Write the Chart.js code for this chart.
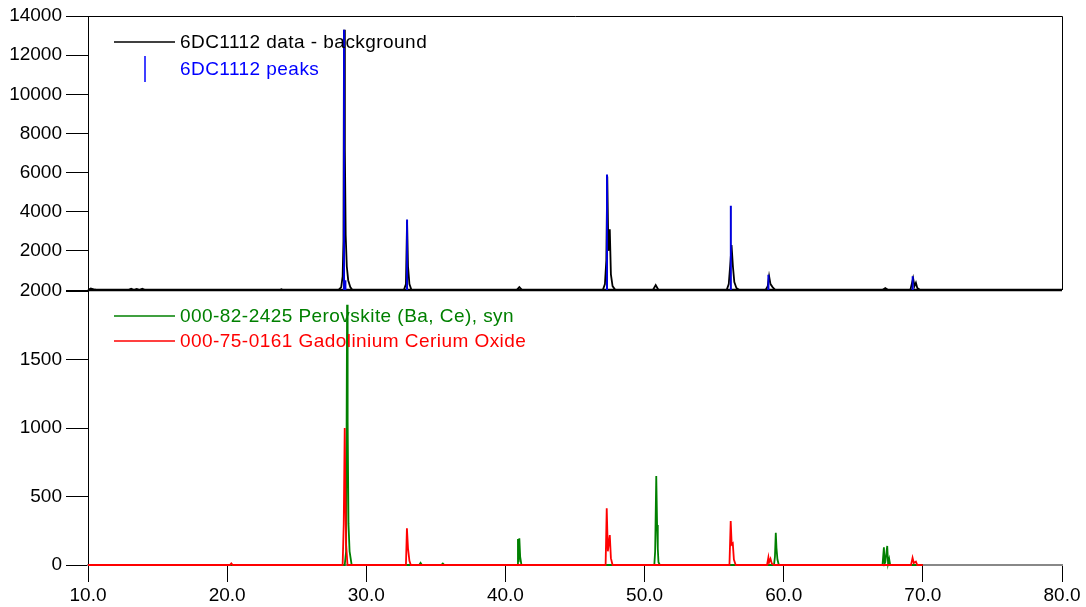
<!DOCTYPE html>
<html lang="en">
<head>
  <meta charset="UTF-8">
  <title>6DC1112 XRD pattern</title>
  <script src="https://cdn.jsdelivr.net/npm/chart.js"></script>
  <style>
    body { margin: 0; background: #fff; font-family: "Liberation Sans", Arial, sans-serif; }
    #wrap { position: relative; width: 1086px; height: 607px; }
    #topCanvas { position: absolute; left: 0; top: 0; }
    #botCanvas { position: absolute; left: 0; top: 270px; }
  </style>
</head>
<body>
  <div id="wrap">
    <canvas id="topCanvas" width="1086" height="310"></canvas>
    <canvas id="botCanvas" width="1086" height="337"></canvas>
  </div>

  <script>
    // measured pattern (2theta, counts) - background subtracted
    const bgX = [10.0, 10.2, 10.4, 10.6, 12.9, 13.1, 13.3, 13.5, 13.7, 13.9, 14.1, 23.8, 23.9, 24.0,
      28.00, 28.20, 28.30, 28.36, 28.40, 28.46, 28.52, 28.60, 28.70, 28.85, 29.00,
      32.70, 32.85, 32.93, 33.00, 33.10, 33.25,
      40.8, 41.0, 41.2,
      47.00, 47.15, 47.25, 47.32, 47.40, 47.50, 47.58, 47.70, 47.90,
      50.6, 50.8, 51.0,
      55.90, 56.05, 56.18, 56.25, 56.35, 56.45, 56.60, 56.80,
      58.70, 58.85, 58.95, 59.05, 59.20, 59.40,
      67.1, 67.3, 67.5,
      69.1, 69.2, 69.3, 69.4, 69.5, 69.6, 69.8, 70.0];
    const bgY = [0, 80, 30, 0, 0, 60, 0, 50, 0, 60, 0, 0, 40, 0,
      0, 150, 700, 2500, 13300, 7200, 2800, 1200, 500, 150, 0,
      0, 300, 3500, 1200, 300, 0,
      0, 150, 0,
      0, 300, 1500, 5800, 2000, 3100, 800, 200, 0,
      0, 250, 0,
      0, 300, 1500, 2300, 1200, 400, 100, 0,
      0, 200, 700, 300, 150, 0,
      0, 100, 0,
      0, 300, 600, 200, 370, 100, 0, 0];

    // peak search result
    const peakX = [28.40, 28.50, 32.93, 47.30, 56.20, 58.90, 69.27];
    const peakH = [13300, 500, 3600, 5900, 4300, 780, 700];

    // reference patterns
    const perovX = [10.0, 28.45, 28.55, 28.62, 28.66, 28.72, 28.80, 28.95, 33.8, 33.9, 34.0, 35.4, 35.5, 35.6,
      40.85, 40.90, 40.95, 41.00, 41.06, 41.15,
      50.70, 50.76, 50.84, 50.90, 50.95, 51.00, 51.10,
      59.30, 59.37, 59.43, 59.48, 59.55, 59.65,
      67.10, 67.20, 67.25, 67.30, 67.44, 67.50, 67.58, 67.65, 70.0];
    const perovY = [0, 0, 100, 1900, 1050, 300, 100, 0, 0, 15, 0, 0, 10, 0,
      0, 190, 20, 195, 60, 0,
      0, 100, 650, 292, 120, 20, 0,
      0, 60, 236, 124, 40, 0,
      0, 129, 10, 20, 139, 10, 44, 0, 0];

    const gdceX = [10.0, 20.2, 20.3, 20.4, 28.30, 28.38, 28.45, 28.50, 28.55, 28.65,
      32.85, 32.92, 33.00, 33.10, 33.20,
      47.20, 47.28, 47.36, 47.50, 47.58, 47.70,
      56.10, 56.19, 56.26, 56.34, 56.42, 56.55,
      58.80, 58.90, 58.95, 59.05, 59.15, 59.30,
      69.15, 69.26, 69.35, 69.50, 69.60, 70.0];
    const gdceY = [0, 0, 12, 0, 0, 300, 1000, 511, 150, 0,
      0, 268, 120, 30, 0,
      0, 414, 100, 219, 50, 0,
      0, 321, 150, 158, 40, 0,
      0, 56, 20, 45, 10, 0,
      0, 53, 15, 25, 0, 0];

    const FONT = { family: '"Liberation Sans", Arial, sans-serif', size: 19 };

    function pts(xs, ys) {
      return xs.map((x, i) => ({ x: x, y: ys[i] }));
    }

    function sticks(xs, hs) {
      const out = [];
      xs.forEach((x, i) => {
        out.push({ x: x, y: 0 }, { x: x, y: hs[i] }, { x: x, y: null });
      });
      return out;
    }

    function yAxis(max, step, hideZero) {
      return {
        min: 0, max: max,
        ticks: {
          stepSize: step, color: '#000', font: FONT, padding: 4,
          callback: v => (hideZero && v === 0) ? '' : v
        },
        grid: { drawOnChartArea: false, tickLength: 22, color: '#000', tickWidth: 1 },
        border: { color: '#000', width: 1 },
        afterFit: s => { s.width = 88; }
      };
    }

    // legend entries drawn inside the plot area
    function legendPlugin(entries) {
      return {
        id: 'inlineLegend',
        afterDraw(chart) {
          const c = chart.ctx;
          c.save();
          c.font = '19px "Liberation Sans", Arial, sans-serif';
          c.letterSpacing = '0.45px';
          c.textBaseline = 'middle';
          entries.forEach(e => {
            c.strokeStyle = e.color;
            c.lineWidth = 1.5;
            c.beginPath();
            if (e.stick) {
              c.moveTo(145, e.y - 13); c.lineTo(145, e.y + 13);
            } else {
              c.moveTo(114, e.y); c.lineTo(175, e.y);
            }
            c.stroke();
            c.fillStyle = e.color;
            c.fillText(e.text, 180, e.y + 1);
          });
          c.restore();
        }
      };
    }

    const framePlugin = {
      id: 'frame',
      beforeDatasetsDraw(chart) {
        const a = chart.chartArea, c = chart.ctx;
        c.save();
        c.strokeStyle = '#000';
        c.lineWidth = 1;
        c.beginPath();
        c.moveTo(a.left, a.top + 0.5); c.lineTo(a.right + 0.5, a.top + 0.5);
        c.lineTo(a.right + 0.5, a.bottom);
        c.stroke();
        c.lineWidth = 2.5;
        c.beginPath();
        c.moveTo(a.left, a.bottom); c.lineTo(a.right, a.bottom);
        c.stroke();
        c.restore();
      }
    };

    new Chart(document.getElementById('topCanvas'), {
      type: 'line',
      data: {
        datasets: [
          { label: '6DC1112 peaks', data: sticks(peakX, peakH), borderColor: '#0000dd',
            borderWidth: 2, pointRadius: 0, spanGaps: false, tension: 0, clip: 6 },
          { label: '6DC1112 data - background', data: pts(bgX, bgY), borderColor: '#000',
            borderWidth: 1.8, pointRadius: 0, tension: 0, clip: 6 }
        ]
      },
      options: {
        responsive: false, animation: false,
        layout: { padding: { top: 16, right: 24, bottom: 20, left: 0 } },
        plugins: { legend: { display: false }, tooltip: { enabled: false } },
        scales: {
          x: { type: 'linear', min: 10, max: 80, display: false },
          y: yAxis(14000, 2000, true)
        }
      },
      plugins: [framePlugin, legendPlugin([
        { text: '6DC1112 data - background', color: '#000', y: 42 },
        { text: '6DC1112 peaks', color: '#0000ff', y: 69, stick: true }
      ])]
    });

    new Chart(document.getElementById('botCanvas'), {
      type: 'line',
      data: {
        datasets: [
          { label: '000-75-0161 Gadolinium Cerium Oxide', data: pts(gdceX, gdceY), borderColor: '#ff0000',
            borderWidth: 1.8, pointRadius: 0, tension: 0, clip: 6 },
          { label: '000-82-2425 Perovskite (Ba, Ce), syn', data: pts(perovX, perovY), borderColor: '#008000',
            borderWidth: 1.8, pointRadius: 0, tension: 0, clip: 6 }
        ]
      },
      options: {
        responsive: false, animation: false,
        layout: { padding: { top: 21, right: 24, bottom: 0, left: 0 } },
        plugins: { legend: { display: false }, tooltip: { enabled: false } },
        scales: {
          x: {
            type: 'linear', min: 10, max: 80,
            ticks: { stepSize: 10, color: '#000', font: FONT, padding: 2, maxRotation: 0,
              callback: v => v.toFixed(1) },
            grid: { drawOnChartArea: false, tickLength: 17, color: '#000', tickWidth: 1 },
            border: { color: '#888', width: 2 },
            afterFit: s => { s.height = 42; }
          },
          y: yAxis(2000, 500, false)
        }
      },
      plugins: [legendPlugin([
        { text: '000-82-2425 Perovskite (Ba, Ce), syn', color: '#008000', y: 46 },
        { text: '000-75-0161 Gadolinium Cerium Oxide', color: '#ff0000', y: 71 }
      ])]
    });
  </script>
</body>
</html>
